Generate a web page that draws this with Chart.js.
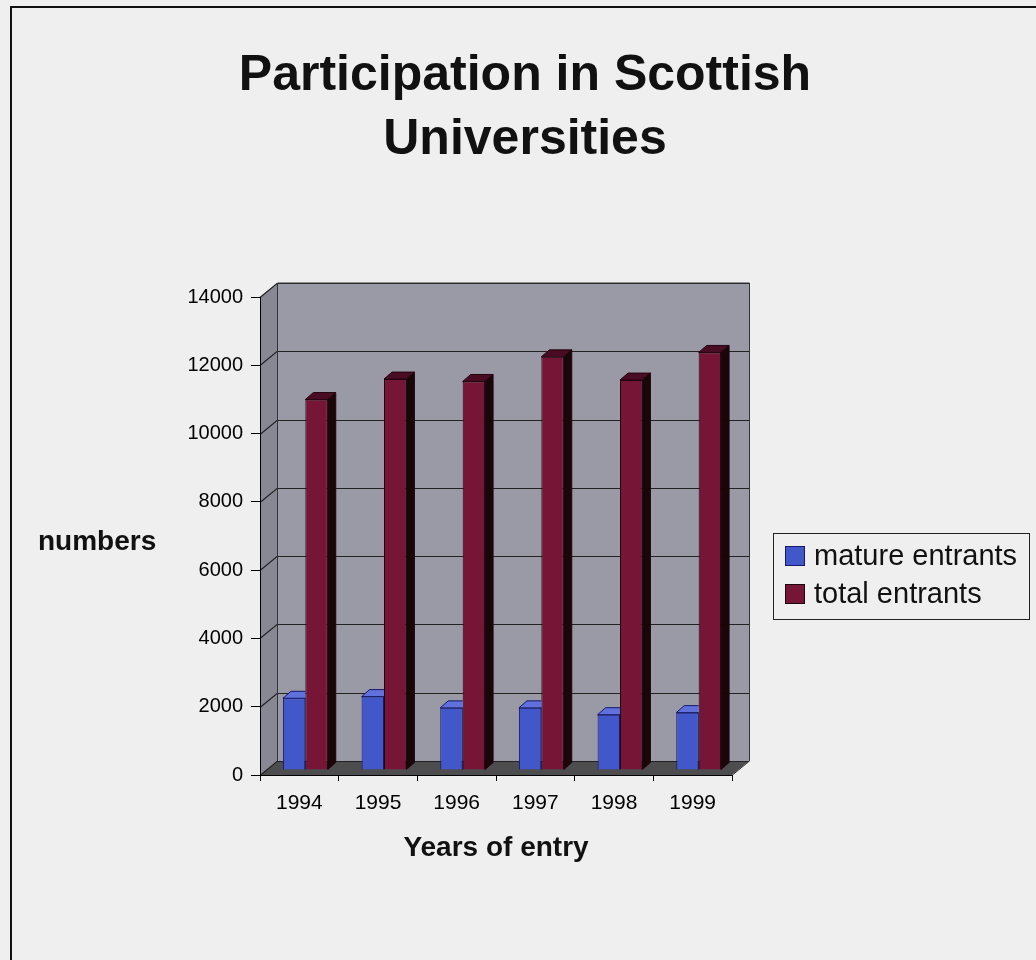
<!DOCTYPE html>
<html>
<head>
<meta charset="utf-8">
<title>Participation in Scottish Universities</title>
<script src="https://cdn.jsdelivr.net/npm/chart.js@4.4.1/dist/chart.umd.min.js"></script>
<style>
  html, body { margin: 0; padding: 0; background: #efefef; }
  canvas { display: block; }
</style>
</head>
<body>
<canvas id="chart" width="1036" height="960"></canvas>
<script>
// ---- data ----
const years = ['1994', '1995', '1996', '1997', '1998', '1999'];
const matureEntrants = [2100, 2150, 1820, 1820, 1620, 1680];
const totalEntrants = [10850, 11450, 11380, 12100, 11420, 12230];
const seriesNames = ['mature entrants', 'total entrants'];
const titleLines = ['Participation in Scottish', 'Universities'];
const yAxisName = 'numbers';
const xAxisName = 'Years of entry';
const yMax = 14000;
const yStep = 2000;

// ---- look ----
const FONT = '"Liberation Sans", Arial, Helvetica, sans-serif';
const PAGE_BG = '#efefef';
const WALL_DEPTH = { dx: 17, dy: -14 };   // floor / wall depth of the 3-D box
const BAR_SHIFT = { dx: 6, dy: -5 };      // bars stand halfway back on the floor
const BAR_DEPTH = { dx: 8, dy: -7 };      // thickness of each column
const faceColors = [
  { top: '#6070dc', side: '#1b2170', edge: '#16186a' },
  { top: '#4a0c22', side: '#180609', edge: '#22040e' }
];

// Box walls, floor, gridlines and page frame behind everything.
const boxPlugin = {
  id: 'box3d',
  beforeDraw(chart) {
    const { ctx, chartArea: a, scales } = chart;
    const y = scales.y;
    const { dx, dy } = WALL_DEPTH;
    const L = a.left, R = a.right, T = a.top, B = a.bottom;
    ctx.save();
    ctx.fillStyle = PAGE_BG;
    ctx.fillRect(0, 0, chart.width, chart.height);

    // page frame
    ctx.strokeStyle = '#111';
    ctx.lineWidth = 2;
    ctx.beginPath();
    ctx.moveTo(11, chart.height + 4);
    ctx.lineTo(11, 7);
    ctx.lineTo(chart.width + 4, 7);
    ctx.stroke();

    const poly = (pts, fill) => {
      ctx.beginPath();
      ctx.moveTo(pts[0][0], pts[0][1]);
      for (let i = 1; i < pts.length; i++) ctx.lineTo(pts[i][0], pts[i][1]);
      ctx.closePath();
      ctx.fillStyle = fill;
      ctx.fill();
    };
    // back wall
    poly([[L + dx, T + dy], [R + dx, T + dy], [R + dx, B + dy], [L + dx, B + dy]], '#9a9aa6');
    // left wall
    poly([[L, B], [L, T], [L + dx, T + dy], [L + dx, B + dy]], '#888894');
    // floor
    poly([[L, B], [R, B], [R + dx, B + dy], [L + dx, B + dy]], '#4d4d50');

    // gridlines across the left and back walls
    ctx.strokeStyle = '#222';
    ctx.lineWidth = 1.2;
    for (let v = 0; v <= yMax; v += yStep) {
      const py = Math.round(y.getPixelForValue(v)) + 0.5;
      ctx.beginPath();
      ctx.moveTo(L, py);
      ctx.lineTo(L + dx, py + dy);
      ctx.lineTo(R + dx, py + dy);
      ctx.stroke();
    }
    // wall outlines
    ctx.strokeStyle = '#333';
    ctx.lineWidth = 1;
    ctx.beginPath();
    ctx.moveTo(L + dx + 0.5, B + dy);
    ctx.lineTo(L + dx + 0.5, T + dy);
    ctx.lineTo(R + dx + 0.5, T + dy);
    ctx.lineTo(R + dx + 0.5, B + dy);
    ctx.lineTo(R + 0.5, B);
    ctx.stroke();
    ctx.restore();
  },
  beforeDatasetsDraw(chart) {
    chart.ctx.save();
    chart.ctx.translate(BAR_SHIFT.dx, BAR_SHIFT.dy);
  },
  afterDatasetDraw(chart, args) {
    const { ctx } = chart;
    const meta = args.meta;
    const fc = faceColors[args.index];
    const { dx, dy } = BAR_DEPTH;
    const last = args.index === chart.data.datasets.length - 1;
    meta.data.forEach(el => {
      const { x, y, base, width } = el.getProps(['x', 'y', 'base', 'width'], true);
      const l = x - width / 2, r = x + width / 2;
      ctx.save();
      if (!last) {
        // the neighbouring column hides anything to the right of this one
        ctx.beginPath();
        ctx.rect(0, 0, r, chart.height);
        ctx.clip();
      }
      ctx.lineWidth = 1;
      ctx.strokeStyle = fc.edge;
      // top face
      ctx.beginPath();
      ctx.moveTo(l, y);
      ctx.lineTo(r, y);
      ctx.lineTo(r + dx, y + dy);
      ctx.lineTo(l + dx, y + dy);
      ctx.closePath();
      ctx.fillStyle = fc.top;
      ctx.fill();
      ctx.stroke();
      // right side face
      ctx.beginPath();
      ctx.moveTo(r, y);
      ctx.lineTo(r + dx, y + dy);
      ctx.lineTo(r + dx, base + dy);
      ctx.lineTo(r, base);
      ctx.closePath();
      ctx.fillStyle = fc.side;
      ctx.fill();
      ctx.stroke();
      ctx.restore();
    });
  },
  afterDatasetsDraw(chart) {
    chart.ctx.restore();
  },
  afterDraw(chart) {
    const { ctx } = chart;
    ctx.save();
    // horizontal value-axis name
    ctx.fillStyle = '#111';
    ctx.font = 'bold 28px ' + FONT;
    ctx.textAlign = 'left';
    ctx.textBaseline = 'alphabetic';
    ctx.fillText(yAxisName, 38, 550);

    // legend box
    const lx = 773, ly = 533, lw = 256, lh = 86;
    ctx.strokeStyle = '#222';
    ctx.lineWidth = 1;
    ctx.strokeRect(lx + 0.5, ly + 0.5, lw, lh);
    ctx.font = '29px ' + FONT;
    ctx.textBaseline = 'middle';
    chart.data.datasets.forEach((ds, i) => {
      const cy = 556 + i * 38;
      ctx.fillStyle = ds.backgroundColor;
      ctx.fillRect(785, cy - 10, 20, 20);
      ctx.strokeStyle = faceColors[i].edge;
      ctx.strokeRect(785.5, cy - 9.5, 19, 19);
      ctx.fillStyle = '#111';
      ctx.fillText(ds.label, 814, cy + 1);
    });
    ctx.restore();
  }
};

new Chart(document.getElementById('chart'), {
  type: 'bar',
  data: {
    labels: years,
    datasets: [
      {
        label: seriesNames[0],
        data: matureEntrants,
        backgroundColor: '#4257c9',
        borderColor: '#16186a',
        borderWidth: 1,
        categoryPercentage: 0.57,
        barPercentage: 1.0,
        clip: false
      },
      {
        label: seriesNames[1],
        data: totalEntrants,
        backgroundColor: '#761536',
        borderColor: '#22040e',
        borderWidth: 1,
        categoryPercentage: 0.57,
        barPercentage: 1.0,
        clip: false
      }
    ]
  },
  options: {
    responsive: false,
    animation: false,
    events: [],
    devicePixelRatio: 1,
    layout: { padding: { left: 14, right: 0, top: 0, bottom: 0 }, autoPadding: false },
    plugins: {
      legend: { display: false },
      tooltip: { enabled: false },
      title: {
        display: true,
        text: titleLines,
        color: '#111',
        font: { family: FONT, size: 50, weight: 'bold', lineHeight: 1.28 },
        padding: { top: 44, bottom: 125 }
      }
    },
    scales: {
      x: {
        type: 'category',
        offset: true,
        grid: { display: true, drawOnChartArea: false, drawTicks: true, tickLength: 6, color: '#000', offset: true },
        border: { display: true, color: '#000', width: 1 },
        ticks: { color: '#000', font: { family: FONT, size: 21 }, padding: 10, maxRotation: 0 },
        title: {
          display: true,
          text: xAxisName,
          color: '#111',
          font: { family: FONT, size: 28, weight: 'bold' },
          padding: { top: 0, bottom: 95 }
        },
        afterFit(scale) { scale.height = 185; }
      },
      y: {
        type: 'linear',
        position: 'left',
        min: 0,
        max: yMax,
        grid: { display: true, drawOnChartArea: false, drawTicks: true, tickLength: 9, color: '#000' },
        border: { display: true, color: '#000', width: 1 },
        ticks: {
          stepSize: yStep,
          color: '#000',
          font: { family: FONT, size: 20 },
          padding: 8,
          callback: v => String(v)
        },
        afterFit(scale) { scale.width = 246; }
      },
      side: {
        type: 'linear',
        position: 'right',
        display: true,
        grid: { display: false },
        border: { display: false },
        ticks: { display: false },
        afterFit(scale) { scale.width = 304; }
      }
    }
  },
  plugins: [boxPlugin]
});
</script>
</body>
</html>
